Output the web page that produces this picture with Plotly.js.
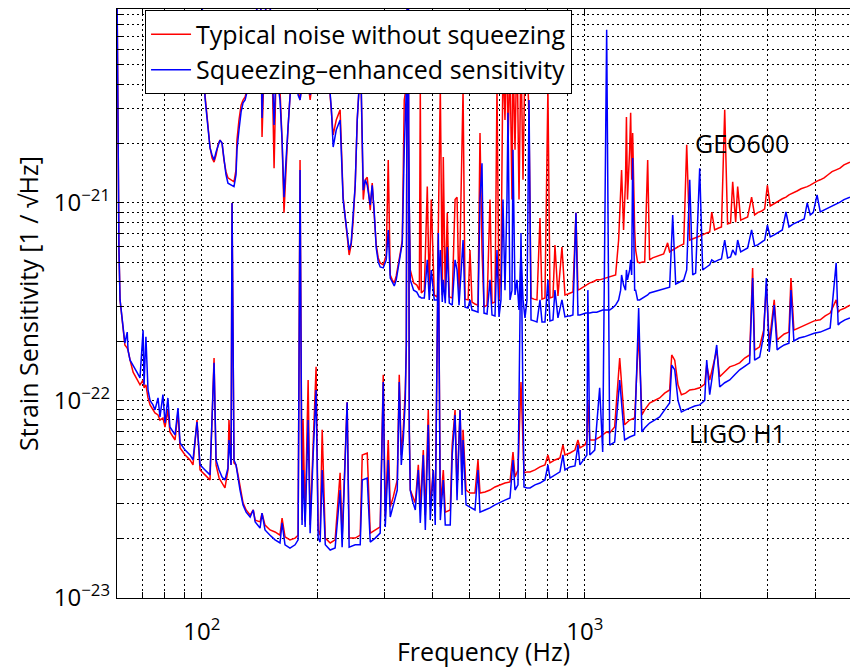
<!DOCTYPE html>
<html>
<head>
<meta charset="utf-8">
<script src="https://cdn.plot.ly/plotly-3.0.1.min.js"></script>
<style>html,body{margin:0;padding:0;background:#fff;}#chart{width:850px;height:668px;}</style>
</head>
<body>
<div id="chart"></div>
<script>
// ---- GEO600 spectra (Hz, strain / sqrt(Hz)) ----
const geoFreq = [
60.1, 99.0, 102.0, 104.0, 105.1, 106.4, 107.7, 109.0, 110.3, 111.6,
113.0, 114.3, 115.7, 117.1, 119.3, 121.4, 122.9, 123.6, 125.1, 126.7,
128.2, 129.8, 131.3, 132.9, 137.9, 142.0, 143.7, 145.4, 148.9, 152.6,
154.5, 156.4, 160.1, 162.1, 164.0, 166.0, 168.0, 171.1, 175.3, 178.5,
180.6, 186.2, 191.9, 197.7, 203.8, 211.0, 218.1, 220.4, 224.5, 229.8,
234.0, 236.9, 239.7, 242.6, 245.6, 248.6, 251.6, 254.7, 257.8, 260.9,
264.1, 267.3, 270.5, 275.4, 278.7, 282.1, 285.5, 289.0, 292.4, 297.8,
303.2, 306.9, 310.6, 314.4, 318.2, 322.0, 326.0, 329.9, 333.9, 337.9,
344.1, 350.4, 357.5, 364.4, 370.0, 372.1, 374.4, 381.2, 388.1, 392.7,
397.5, 404.7, 412.3, 419.7, 424.7, 427.3, 432.4, 437.6, 442.9, 450.8,
458.6, 464.1, 469.7, 481.2, 487.0, 496.0, 501.7, 507.8, 517.0, 526.4,
532.8, 539.2, 545.8, 555.8, 565.8, 572.7, 583.0, 590.1, 597.3, 604.4,
611.7, 619.1, 626.6, 630.4, 638.1, 645.8, 649.7, 657.6, 665.5, 673.6,
681.7, 690.0, 698.3, 706.8, 715.4, 724.1, 737.1, 750.4, 764.2, 773.4,
787.4, 801.5, 811.4, 826.2, 836.1, 851.3, 872.0, 887.9, 904.0, 914.9,
931.5, 948.6, 960.1, 971.7, 989.3, 1007, 1031, 1050, 1075, 1094,
1114, 1141, 1162, 1182, 1204, 1226, 1241, 1248, 1263, 1278,
1285, 1293, 1310, 1318, 1326, 1334, 1350, 1358, 1374, 1391,
1416, 1434, 1460, 1477, 1504, 1531, 1569, 1607, 1646, 1666,
1697, 1728, 1770, 1813, 1846, 1880, 1914, 1948, 1996, 2032,
2082, 2120, 2146, 2184, 2236, 2275, 2320, 2360, 2403, 2434,
2478, 2508, 2554, 2616, 2663, 2727, 2777, 2829, 2898, 2950,
2998, 3050, 3124, 3201, 3280, 3353, 3414, 3499, 3584, 3671,
3741, 3810, 3880, 3950, 4042, 4120, 4217, 4318, 4422, 4534,
4640, 4752, 4867, 4925];

const geoNoSqz = [
2.2e-20, 2.2e-20, 3.52e-21, 2.48e-21, 1.92e-21, 1.69e-21, 1.61e-21, 1.75e-21, 1.97e-21, 2.08e-21,
2.01e-21, 1.65e-21, 1.44e-21, 1.34e-21, 1.31e-21, 1.28e-21, 1.47e-21, 2.08e-21, 2.63e-21, 3.13e-21,
3.32e-21, 3.44e-21, 3.74e-21, 5.30e-21, 6.69e-21, 2.2e-20, 2.16e-21, 5.95e-21, 2.2e-20, 5.30e-21,
1.50e-21, 4.72e-21, 3.74e-21, 2.08e-21, 8.93e-22, 1.47e-21, 2.40e-21, 4.20e-21, 5.95e-21, 3.74e-21,
3.32e-21, 5.30e-21, 3.32e-21, 5.30e-21, 6.69e-21, 6.69e-21, 2.79e-21, 2.21e-21, 2.63e-21, 2.96e-21,
1.07e-21, 8.7e-22, 7.05e-22, 5.45e-22, 6.13e-22, 8.19e-22, 1.23e-21, 2.63e-21, 3.96e-21, 3.74e-21,
1.04e-21, 1.31e-21, 1.35e-21, 9.2e-22, 1.26e-21, 9.2e-22, 6.13e-22, 5.27e-22, 4.97e-22, 4.86e-22,
5.45e-22, 1.65e-21, 4.32e-22, 4.08e-22, 3.94e-22, 4.27e-22, 5.03e-22, 5.58e-22, 6.49e-22, 3.32e-21,
4.20e-21, 4.58e-22, 3.94e-22, 3.84e-22, 3.62e-22, 3.74e-21, 3.50e-22, 3.62e-22, 1.21e-21, 3.54e-22,
1.04e-21, 3.42e-22, 3.34e-22, 3.82e-21, 3.42e-22, 1.71e-21, 3.38e-22, 8.93e-22, 3.34e-22, 3.30e-22,
1.04e-21, 1.07e-21, 3.30e-22, 3.74e-21, 3.26e-22, 3.23e-22, 5.78e-22, 3.15e-22, 3.08e-22, 3.04e-22,
2.26e-21, 5.78e-22, 2.97e-22, 3.04e-22, 1.04e-21, 3.11e-22, 3.15e-22, 3.82e-21, 3.23e-22, 4.42e-22,
5.30e-21, 2.63e-21, 6.69e-21, 1.86e-21, 5.30e-21, 1.04e-21, 5.95e-21, 1.86e-21, 6.69e-21, 1.04e-21,
5.95e-21, 1.31e-21, 5.30e-21, 5.95e-21, 2.63e-21, 3.30e-22, 3.26e-22, 3.23e-22, 8.4e-22, 3.26e-22,
3.30e-22, 3.82e-21, 3.30e-22, 3.34e-22, 6.13e-22, 3.38e-22, 5.98e-22, 3.42e-22, 3.46e-22, 3.50e-22,
3.54e-22, 8.93e-22, 3.62e-22, 3.66e-22, 3.75e-22, 3.84e-22, 3.94e-22, 3.98e-22, 4.08e-22, 4.08e-22,
4.12e-22, 4.17e-22, 4.22e-22, 4.27e-22, 4.32e-22, 6.49e-22, 1.04e-21, 1.47e-21, 7.3e-22, 1.31e-21,
2.72e-21, 1.04e-21, 1.86e-21, 2.86e-21, 1.31e-21, 2.26e-21, 7.3e-22, 5.78e-22, 5.03e-22, 4.97e-22,
5.03e-22, 5.03e-22, 1.65e-21, 5.15e-22, 5.27e-22, 5.33e-22, 5.45e-22, 5.52e-22, 6.28e-22, 5.65e-22,
5.78e-22, 5.92e-22, 6.06e-22, 6.2e-22, 1.97e-21, 6.49e-22, 6.57e-22, 6.65e-22, 6.81e-22, 6.89e-22,
7.05e-22, 7.13e-22, 9.0e-22, 7.3e-22, 7.47e-22, 7.56e-22, 2.96e-21, 7.82e-22, 7.92e-22, 1.28e-21,
8.0e-22, 1.21e-21, 8.19e-22, 8.4e-22, 8.5e-22, 1.07e-21, 8.7e-22, 8.93e-22, 9.1e-22, 9.33e-22,
1.23e-21, 9.66e-22, 9.89e-22, 1.02e-21, 1.05e-21, 1.07e-21, 1.10e-21, 1.12e-21, 1.15e-21, 1.18e-21,
1.19e-21, 1.21e-21, 1.23e-21, 1.26e-21, 1.29e-21, 1.31e-21, 1.34e-21, 1.39e-21, 1.44e-21, 1.47e-21,
1.50e-21, 1.56e-21, 1.59e-21, 1.61e-21];

const geoSqz = [
2.2e-20, 2.2e-20, 3.40e-21, 2.34e-21, 1.90e-21, 1.75e-21, 1.65e-21, 1.81e-21, 1.97e-21, 2.08e-21,
2.01e-21, 1.69e-21, 1.39e-21, 1.26e-21, 1.23e-21, 1.21e-21, 1.39e-21, 1.86e-21, 2.34e-21, 2.89e-21,
3.21e-21, 3.32e-21, 3.65e-21, 5.30e-21, 6.31e-21, 2.2e-20, 2.69e-21, 5.95e-21, 2.2e-20, 5.30e-21,
2.48e-21, 4.72e-21, 3.32e-21, 2.08e-21, 1.07e-21, 1.65e-21, 2.48e-21, 4.20e-21, 5.95e-21, 3.52e-21,
3.32e-21, 5.30e-21, 3.52e-21, 5.30e-21, 6.69e-21, 6.69e-21, 2.96e-21, 1.92e-21, 2.34e-21, 2.63e-21,
1.04e-21, 8.7e-22, 7.3e-22, 5.78e-22, 6.28e-22, 8.4e-22, 1.23e-21, 2.63e-21, 3.96e-21, 3.82e-21,
1.16e-21, 1.31e-21, 1.23e-21, 9.77e-22, 1.23e-21, 9.0e-22, 5.92e-22, 5.03e-22, 4.74e-22, 4.69e-22,
5.15e-22, 7.3e-22, 4.17e-22, 3.98e-22, 3.80e-22, 4.08e-22, 4.86e-22, 5.45e-22, 6.28e-22, 1.86e-21,
5.30e-21, 4.08e-22, 3.62e-22, 3.54e-22, 3.34e-22, 3.34e-22, 3.30e-22, 3.30e-22, 5.15e-22, 3.23e-22,
4.58e-22, 3.23e-22, 3.23e-22, 5.78e-22, 3.15e-22, 4.08e-22, 3.11e-22, 5.98e-22, 3.11e-22, 3.04e-22,
5.15e-22, 4.58e-22, 3.04e-22, 6.49e-22, 2.97e-22, 2.94e-22, 3.23e-22, 2.87e-22, 2.84e-22, 2.80e-22,
1.04e-21, 1.59e-21, 2.77e-22, 2.74e-22, 4.08e-22, 2.71e-22, 2.68e-22, 5.78e-22, 2.65e-22, 3.23e-22,
1.04e-21, 3.62e-22, 1.04e-21, 2.86e-21, 3.23e-22, 3.62e-22, 1.86e-21, 3.42e-22, 4.08e-22, 2.87e-22,
5.78e-22, 3.23e-22, 2.62e-22, 3.23e-22, 3.32e-21, 2.56e-22, 2.53e-22, 2.50e-22, 3.23e-22, 2.50e-22,
2.50e-22, 4.08e-22, 2.53e-22, 2.56e-22, 3.62e-22, 2.62e-22, 3.23e-22, 2.65e-22, 2.68e-22, 2.68e-22,
2.71e-22, 8.93e-22, 2.71e-22, 2.71e-22, 2.74e-22, 2.77e-22, 2.77e-22, 2.80e-22, 2.80e-22, 2.84e-22,
2.87e-22, 2.87e-22, 2.87e-22, 2.94e-22, 3.04e-22, 3.23e-22, 3.62e-22, 4.32e-22, 3.84e-22, 3.62e-22,
4.58e-22, 4.08e-22, 4.58e-22, 5.15e-22, 4.32e-22, 1.69e-21, 3.62e-22, 3.62e-22, 3.23e-22, 3.23e-22,
3.30e-22, 3.34e-22, 3.42e-22, 3.50e-22, 3.54e-22, 3.58e-22, 3.62e-22, 3.66e-22, 3.75e-22, 3.75e-22,
8.7e-22, 3.89e-22, 3.98e-22, 4.08e-22, 4.58e-22, 1.31e-21, 4.32e-22, 4.42e-22, 1.50e-21, 4.58e-22,
4.74e-22, 4.86e-22, 5.15e-22, 5.03e-22, 5.15e-22, 5.21e-22, 6.49e-22, 5.27e-22, 5.33e-22, 5.78e-22,
5.45e-22, 6.49e-22, 5.65e-22, 5.78e-22, 5.92e-22, 7.3e-22, 6.06e-22, 6.13e-22, 6.35e-22, 6.49e-22,
7.73e-22, 6.73e-22, 6.89e-22, 7.13e-22, 7.3e-22, 9.0e-22, 7.56e-22, 7.82e-22, 8.0e-22, 8.19e-22,
8.3e-22, 1.0e-21, 8.7e-22, 8.93e-22, 1.10e-21, 9.0e-22, 9.2e-22, 9.43e-22, 9.66e-22, 9.89e-22,
1.01e-21, 1.04e-21, 1.06e-21, 1.07e-21];

// ---- LIGO H1 spectra ----
const ligoFreq = [
60.1, 60.5, 60.8, 61.2, 62.0, 62.4, 63.0, 63.9, 64.2, 65.0,
66.2, 67.9, 69.0, 70.3, 70.7, 71.5, 72.4, 73.3, 74.6, 75.5,
76.9, 77.8, 79.2, 80.2, 81.6, 82.6, 85.2, 86.7, 87.8, 90.5,
93.2, 94.9, 97.2, 99.0, 102.0, 105.1, 107.7, 109.0, 111.0, 113.0,
115.0, 117.1, 117.8, 119.3, 120.0, 121.4, 122.9, 124.4, 125.9, 128.2,
130.6, 133.8, 136.3, 137.9, 142.0, 143.7, 146.3, 150.8, 155.4, 160.1,
162.1, 165.0, 170.0, 175.3, 178.5, 180.6, 182.8, 183.9, 186.2, 189.6,
191.9, 195.4, 198.9, 201.4, 203.8, 206.3, 210.2, 216.5, 223.0, 229.8,
232.6, 239.7, 242.6, 251.6, 259.3, 262.5, 270.5, 275.4, 283.8, 292.4,
297.8, 301.4, 306.9, 310.6, 316.3, 324.0, 327.9, 331.9, 335.9, 340.0,
342.1, 344.1, 346.2, 348.3, 350.4, 354.6, 361.1, 367.7, 372.1, 378.9,
383.5, 390.4, 395.1, 402.3, 407.1, 414.7, 419.7, 427.3, 432.4, 445.5,
450.8, 458.6, 464.1, 472.6, 478.3, 481.2, 490.0, 501.7, 517.0, 526.4,
532.8, 549.1, 565.8, 583.0, 600.8, 619.1, 638.1, 649.7, 657.6, 669.5,
681.7, 694.1, 706.8, 719.7, 741.5, 764.2, 787.4, 801.5, 811.4, 836.1,
861.6, 877.3, 887.9, 914.9, 943, 960, 971.7, 1001, 1013, 1019,
1031, 1062, 1094, 1114, 1141, 1162, 1197, 1234, 1271, 1310,
1350, 1383, 1410, 1434, 1477, 1522, 1569, 1617, 1666, 1687,
1718, 1752, 1788, 1834, 1880, 1937, 1996, 2057, 2082, 2120,
2211, 2251, 2320, 2391, 2464, 2538, 2616, 2695, 2744, 2777,
2862, 2932, 2980, 3032, 3124, 3180, 3220, 3318, 3414, 3455,
3516, 3628, 3741, 3856, 3973, 4120, 4245, 4373, 4534, 4588,
4640, 4780, 4925];

const ligoNoSqz = [
1.2e-20, 1.97e-21, 5.8e-22, 3.23e-22, 2.56e-22, 2.19e-22, 1.91e-22, 1.84e-22, 1.80e-22, 1.60e-22,
1.39e-22, 1.27e-22, 1.20e-22, 1.27e-22, 1.16e-22, 1.20e-22, 1.03e-22, 9.5e-23, 8.96e-23, 8.65e-23,
8.45e-23, 7.96e-23, 8.15e-23, 7.34e-23, 8.96e-23, 6.93e-23, 6.31e-23, 8.75e-23, 5.75e-23, 5.30e-23,
5.0e-23, 4.72e-23, 7.96e-23, 4.45e-23, 4.20e-23, 3.96e-23, 1.64e-22, 4.72e-23, 4.05e-23, 3.82e-23,
3.61e-23, 4.45e-23, 7.96e-23, 4.72e-23, 1.0e-21, 4.83e-23, 4.72e-23, 4.20e-23, 3.61e-23, 3.03e-23,
2.79e-23, 2.63e-23, 2.79e-23, 2.48e-23, 2.43e-23, 2.69e-23, 2.34e-23, 2.21e-23, 2.16e-23, 2.08e-23,
2.54e-23, 2.04e-23, 1.97e-23, 2.01e-23, 2.08e-23, 1.65e-21, 2.48e-23, 7.96e-23, 2.43e-23, 1.27e-22,
2.34e-23, 5.61e-23, 1.48e-22, 2.21e-23, 2.08e-23, 7.10e-23, 2.01e-23, 1.90e-23, 1.97e-23, 4.30e-23,
2.01e-23, 9.8e-23, 2.01e-23, 2.01e-23, 2.08e-23, 5.30e-23, 5.42e-23, 2.13e-23, 2.21e-23, 2.29e-23,
1.35e-22, 2.57e-23, 6.31e-23, 2.89e-23, 3.25e-23, 3.96e-23, 1.35e-22, 5.30e-23, 7.10e-23, 1.13e-22,
1.91e-22, 2.2e-20, 2.2e-20, 7.10e-23, 3.52e-23, 3.32e-23, 3.03e-23, 4.72e-23, 2.96e-23, 5.61e-23,
2.63e-23, 8.96e-23, 2.89e-23, 4.45e-23, 2.79e-23, 6.49e-22, 2.89e-23, 4.45e-23, 2.72e-23, 2.79e-23,
5.95e-23, 8.96e-23, 3.52e-23, 8.96e-23, 3.74e-23, 7.10e-23, 3.52e-23, 3.40e-23, 3.40e-23, 5.0e-23,
3.40e-23, 3.44e-23, 3.52e-23, 3.65e-23, 3.74e-23, 3.82e-23, 3.87e-23, 5.48e-23, 4.10e-23, 4.45e-23,
1.24e-22, 4.30e-23, 4.35e-23, 4.35e-23, 4.45e-23, 4.61e-23, 4.72e-23, 5.30e-23, 4.83e-23, 5.0e-23,
5.12e-23, 5.95e-23, 5.30e-23, 5.42e-23, 5.61e-23, 6.31e-23, 5.75e-23, 5.95e-23, 6.31e-23, 1.0e-22,
6.31e-23, 6.31e-23, 6.53e-23, 6.69e-23, 6.93e-23, 6.85e-23, 7.34e-23, 1.64e-22, 7.53e-23, 7.96e-23,
8.15e-23, 2.19e-22, 8.45e-23, 8.96e-23, 9.71e-23, 1.0e-22, 1.03e-22, 1.09e-22, 1.13e-22, 1.70e-22,
1.60e-22, 1.20e-22, 1.07e-22, 1.09e-22, 1.13e-22, 1.14e-22, 1.16e-22, 1.21e-22, 1.51e-22, 1.27e-22,
1.80e-22, 1.32e-22, 1.39e-22, 1.48e-22, 1.51e-22, 1.55e-22, 1.64e-22, 1.70e-22, 4.69e-22, 1.80e-22,
1.87e-22, 2.27e-22, 3.84e-22, 1.95e-22, 3.23e-22, 2.02e-22, 2.07e-22, 2.17e-22, 2.22e-22, 4.17e-22,
2.27e-22, 2.33e-22, 2.41e-22, 2.47e-22, 2.53e-22, 2.56e-22, 2.68e-22, 2.77e-22, 3.23e-22, 2.80e-22,
2.87e-22, 2.94e-22, 3.04e-22];

const ligoSqz = [
1.2e-20, 1.97e-21, 5.8e-22, 3.23e-22, 2.56e-22, 2.19e-22, 1.95e-22, 2.22e-22, 1.80e-22, 1.60e-22,
1.51e-22, 1.38e-22, 1.30e-22, 2.27e-22, 1.20e-22, 2.10e-22, 1.13e-22, 1.0e-22, 9.5e-23, 8.96e-23,
1.03e-22, 8.25e-23, 1.07e-22, 7.69e-23, 1.03e-22, 7.34e-23, 6.69e-23, 9.16e-23, 6.09e-23, 5.61e-23,
5.30e-23, 5.0e-23, 7.78e-23, 4.72e-23, 4.45e-23, 4.20e-23, 1.55e-22, 5.0e-23, 4.45e-23, 4.10e-23,
3.96e-23, 4.55e-23, 6.31e-23, 4.72e-23, 1.0e-21, 5.0e-23, 4.72e-23, 4.05e-23, 3.52e-23, 2.96e-23,
2.72e-23, 2.57e-23, 2.79e-23, 2.43e-23, 2.26e-23, 2.69e-23, 2.21e-23, 2.08e-23, 1.97e-23, 1.90e-23,
2.40e-23, 1.86e-23, 1.79e-23, 1.86e-23, 1.97e-23, 1.47e-21, 2.34e-23, 4.45e-23, 2.29e-23, 7.96e-23,
2.13e-23, 5.30e-23, 1.13e-22, 2.01e-23, 1.92e-23, 4.45e-23, 1.86e-23, 1.75e-23, 1.79e-23, 3.52e-23,
1.81e-23, 9.8e-23, 1.81e-23, 1.86e-23, 1.86e-23, 3.96e-23, 4.05e-23, 1.92e-23, 2.01e-23, 2.13e-23,
1.24e-22, 2.29e-23, 5.0e-23, 2.57e-23, 2.96e-23, 3.52e-23, 1.24e-22, 4.72e-23, 6.31e-23, 1.0e-22,
1.91e-22, 2.2e-20, 2.2e-20, 7.10e-23, 3.52e-23, 3.13e-23, 2.79e-23, 4.45e-23, 2.40e-23, 5.30e-23,
2.21e-23, 7.53e-23, 2.48e-23, 4.45e-23, 2.34e-23, 7.05e-22, 2.48e-23, 3.96e-23, 2.34e-23, 2.34e-23,
5.30e-23, 8.45e-23, 3.13e-23, 8.96e-23, 3.32e-23, 6.31e-23, 2.96e-23, 2.89e-23, 2.79e-23, 4.45e-23,
2.72e-23, 2.79e-23, 2.86e-23, 2.96e-23, 3.03e-23, 3.13e-23, 3.21e-23, 5.0e-23, 3.52e-23, 3.74e-23,
7.05e-22, 3.65e-23, 3.61e-23, 3.61e-23, 3.74e-23, 3.82e-23, 3.96e-23, 4.72e-23, 4.05e-23, 4.20e-23,
4.35e-23, 5.30e-23, 4.45e-23, 4.61e-23, 4.66e-23, 5.95e-23, 4.72e-23, 5.12e-23, 5.30e-23, 3.62e-22,
5.30e-23, 5.61e-23, 1.16e-22, 5.48e-23, 7.53e-21, 5.95e-23, 6.16e-23, 1.27e-22, 6.31e-23, 6.53e-23,
6.69e-23, 2.94e-22, 6.93e-23, 7.26e-23, 7.69e-23, 7.96e-23, 8.25e-23, 8.96e-23, 9.71e-23, 1.51e-22,
1.43e-22, 1.0e-22, 8.75e-23, 8.96e-23, 9.16e-23, 9.38e-23, 9.5e-23, 1.0e-22, 1.60e-22, 1.07e-22,
1.91e-22, 1.17e-22, 1.23e-22, 1.27e-22, 1.35e-22, 1.43e-22, 1.49e-22, 1.55e-22, 4.17e-22, 1.60e-22,
1.66e-22, 2.15e-22, 4.17e-22, 1.76e-22, 3.04e-22, 1.80e-22, 1.84e-22, 1.91e-22, 1.95e-22, 3.62e-22,
2.00e-22, 2.07e-22, 2.10e-22, 2.15e-22, 2.19e-22, 2.22e-22, 2.27e-22, 2.33e-22, 4.97e-22, 2.41e-22,
2.47e-22, 2.56e-22, 2.62e-22];

// ---- axis ticks ----
const xTickVals = [60, 70, 80, 90, 100, 200, 300, 400, 500, 600, 700, 800, 900, 1000, 2000, 3000, 4000];
const xTickText = ['', '', '', '', '10<sup>2</sup>', '', '', '', '', '', '', '', '', '10<sup>3</sup>', '', '', ''];
const yTickVals = [1e-23, 2e-23, 3e-23, 4e-23, 5e-23, 6e-23, 7e-23, 8e-23, 9e-23,
                   1e-22, 2e-22, 3e-22, 4e-22, 5e-22, 6e-22, 7e-22, 8e-22, 9e-22,
                   1e-21, 2e-21, 3e-21, 4e-21, 5e-21, 6e-21, 7e-21, 8e-21, 9e-21];
const yTickText = ['10<sup>\u221223</sup>', '', '', '', '', '', '', '', '',
                   '10<sup>\u221222</sup>', '', '', '', '', '', '', '', '',
                   '10<sup>\u221221</sup>', '', '', '', '', '', '', '', ''];

const seriesNames = ['Typical noise without squeezing', 'Squeezing\u2013enhanced sensitivity'];
const RED = '#ff0000', BLUE = '#0000ff';

const traces = [
  {x: geoFreq, y: geoNoSqz, type: 'scatter', mode: 'lines', name: seriesNames[0], legendgroup: 'a', line: {color: RED, width: 1.5}, hoverinfo: 'skip'},
  {x: ligoFreq, y: ligoNoSqz, type: 'scatter', mode: 'lines', name: seriesNames[0], legendgroup: 'a', showlegend: false, line: {color: RED, width: 1.5}, hoverinfo: 'skip'},
  {x: geoFreq, y: geoSqz, type: 'scatter', mode: 'lines', name: seriesNames[1], legendgroup: 'b', line: {color: BLUE, width: 1.5}, hoverinfo: 'skip'},
  {x: ligoFreq, y: ligoSqz, type: 'scatter', mode: 'lines', name: seriesNames[1], legendgroup: 'b', showlegend: false, line: {color: BLUE, width: 1.5}, hoverinfo: 'skip'}
];

const FONT = '"Open Sans", "DejaVu Sans", sans-serif';
const axisCommon = {
  type: 'log', tickmode: 'array', ticks: 'inside', ticklen: 6, tickwidth: 1, tickcolor: 'black',
  showline: true, linecolor: 'black', linewidth: 1.2, zeroline: false,
  showgrid: true, gridcolor: 'black', gridwidth: 1, griddash: '2px,3px',
  tickfont: {size: 24, family: FONT, color: 'black'}
};

const layout = {
  width: 850, height: 668,
  margin: {l: 117, r: 0, t: 9, b: 70, pad: 0},
  paper_bgcolor: 'white', plot_bgcolor: 'white',
  font: {family: FONT, color: 'black'},
  showlegend: true,
  xaxis: Object.assign({}, axisCommon, {
    range: [1.7788, 3.6926], tickvals: xTickVals, ticktext: xTickText, mirror: 'ticks',
    ticklabelstandoff: 12,
    title: {text: 'Frequency (Hz)', font: {size: 25, family: FONT}, standoff: 2}
  }),
  yaxis: Object.assign({}, axisCommon, {
    range: [-23, -20.018], tickvals: yTickVals, ticktext: yTickText, mirror: false,
    ticklabelstandoff: 1,
    title: {text: 'Strain Sensitivity [1 / \u221AHz]', font: {size: 25, family: FONT}, standoff: 8}
  }),
  legend: {
    x: 0.038, y: 0.998, xanchor: 'left', yanchor: 'top',
    bgcolor: 'white', bordercolor: 'black', borderwidth: 1.2,
    font: {size: 25, family: FONT, color: 'black'},
    itemwidth: 40, traceorder: 'grouped', tracegroupgap: 0
  },
  annotations: [
    {xref: 'paper', yref: 'paper', x: 0.853, y: 0.7725, xanchor: 'center', yanchor: 'middle', text: 'GEO600', showarrow: false, font: {size: 25, family: FONT, color: 'black'}},
    {xref: 'paper', yref: 'paper', x: 0.846, y: 0.280, xanchor: 'center', yanchor: 'middle', text: 'LIGO H1', showarrow: false, font: {size: 25, family: FONT, color: 'black'}}
  ]
};

Plotly.newPlot('chart', traces, layout, {displayModeBar: false, staticPlot: true});
</script>
</body>
</html>
